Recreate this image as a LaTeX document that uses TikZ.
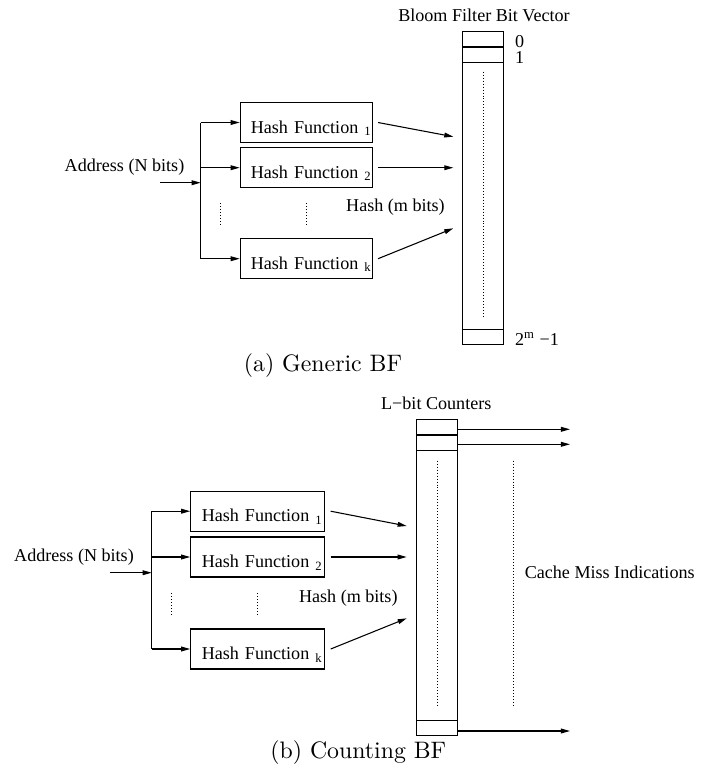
\documentclass[tikz,border=0pt]{standalone}
\usepackage{fontspec}
\newfontfamily\figfont{Liberation Serif}
\usetikzlibrary{positioning,arrows.meta}

\begin{document}
\begin{tikzpicture}[x=0.42pt,y=-0.42pt,
    lbl/.style={font=\figfont\fontsize{7.6}{9}\selectfont,inner sep=0pt},
    hashbox/.style={lbl,draw,line width=0.5pt,text width=55.5pt,align=left,
      inner sep=0pt,text height=12.9pt,text depth=3.9pt},
    cell/.style={draw,line width=0.45pt,minimum width=17.05pt,minimum height=6.3pt,inner sep=0pt},
    vecbox/.style={draw,line width=0.6pt,minimum width=17.05pt,inner sep=0pt},
    arr/.style={line width=0.45pt,-{Triangle[length=3.8pt,width=2pt]}},
    dotline/.style={line width=0.4pt,dash pattern=on 0.4pt off 0.85pt}]
  \useasboundingbox (0,0) rectangle (714,773);

  % (a) generic bloom filter
  \node[lbl] at (484,15) {Bloom Filter Bit Vector};
  \node[vecbox,minimum height=131.3pt] (avec) at (483,188) {};
  \node[cell,below=0pt of avec.north] (a0) {};
  \node[cell,below=0pt of a0] (a1) {};
  \node[cell,above=0pt of avec.south] (am) {};
  \node[lbl,right=4.5pt of a0.south east,anchor=base west] {0};
  \node[lbl,right=4.5pt of a1.south east,anchor=base west] {1};
  \node[lbl,right=4.5pt of am.south east,anchor=base west] {2\textsuperscript{m} −1};
  \draw[dotline] (483.5,71.7) -- (483.5,316.7);

  \node[hashbox] (ah1) at (306.4,122.5) {\hspace*{4.4pt}Hash Function \textsubscript{1}};
  \node[hashbox] (ah2) at (306.4,167.7) {\hspace*{4.4pt}Hash Function \textsubscript{2}};
  \node[hashbox] (ahk) at (306.4,258.7) {\hspace*{4.4pt}Hash Function \textsubscript{k}};
  \draw[dotline] (220.5,203) -- (220.5,226);
  \draw[dotline] (306.5,203) -- (306.5,226);

  \node[lbl] (aaddr) at (124.5,167) {Address (N bits)};
  \coordinate (ain) at (160.5,182.7);
  \coordinate (abus) at (200.7,182.7);
  \draw[arr] (ain) -- (abus);
  \draw[line width=0.45pt] (ah1.west -| abus) -- (ahk.west -| abus);
  \foreach \h in {ah1,ah2,ahk}
    \draw[arr] (\h.west -| abus) -- (\h.west);

  \coordinate (at1) at (453.3,136.7);
  \coordinate (at2) at (453.3,167.7);
  \coordinate (atk) at (453.3,228.3);
  \draw[arr] ([xshift=2.1pt]ah1.east) -- (at1);
  \draw[arr] ([xshift=2.1pt]ah2.east) -- (at2);
  \draw[arr] ([xshift=2.1pt]ahk.east) -- (atk);
  \node[lbl] at (395.5,207.3) {Hash (m bits)};

  \node at (323,366) {(a) Generic BF};

  % (b) counting bloom filter
  \node[lbl] at (436.3,403) {L−bit Counters};
  \node[vecbox,minimum height=132.8pt] (bvec) at (437,577.4) {};
  \node[cell,below=0pt of bvec.north] (b0) {};
  \node[cell,below=0pt of b0] (b1) {};
  \node[cell,above=0pt of bvec.south] (bm) {};
  \draw[dotline] (437.3,460.7) -- (437.3,706.7);

  \coordinate (bo0) at (570,429.3);
  \coordinate (bo1) at (570,444.3);
  \coordinate (bom) at (570,731);
  \draw[arr] (b0.east |- bo0) -- (bo0);
  \draw[arr] (b1.east |- bo1) -- (bo1);
  \draw[arr] (bm.east |- bom) -- (bom);
  \draw[dotline] (513.3,460.7) -- (513.3,706.7);
  \node[lbl] at (609.7,572.7) {Cache Miss Indications};

  \node[hashbox,text width=56pt] (bh1) at (257.5,511.2) {\hspace*{4.6pt}Hash Function \textsubscript{1}};
  \node[hashbox,text width=56pt] (bh2) at (257.5,557) {\hspace*{4.6pt}Hash Function \textsubscript{2}};
  \node[hashbox,text width=56pt] (bhk) at (257.5,649) {\hspace*{4.6pt}Hash Function \textsubscript{k}};
  \draw[dotline] (171.3,593.3) -- (171.3,616);
  \draw[dotline] (257.5,593.3) -- (257.5,616);

  \node[lbl] (baddr) at (74,557.3) {Address (N bits)};
  \coordinate (bin) at (110,572.7);
  \coordinate (bbus) at (151.7,572.7);
  \draw[arr] (bin) -- (bbus);
  \draw[line width=0.45pt] (bh1.west -| bbus) -- (bhk.west -| bbus);
  \foreach \h in {bh1,bh2,bhk}
    \draw[arr] (\h.west -| bbus) -- (\h.west);

  \coordinate (bt1) at (406.7,526);
  \coordinate (bt2) at (406.7,557);
  \coordinate (btk) at (406.7,618.3);
  \draw[arr] ([xshift=2.5pt]bh1.east) -- (bt1);
  \draw[arr] ([xshift=2.5pt]bh2.east) -- (bt2);
  \draw[arr] ([xshift=2.5pt]bhk.east) -- (btk);
  \node[lbl] at (348.3,598.3) {Hash (m bits)};

  \node at (358.3,753) {(b) Counting BF};
\end{tikzpicture}
\end{document}
